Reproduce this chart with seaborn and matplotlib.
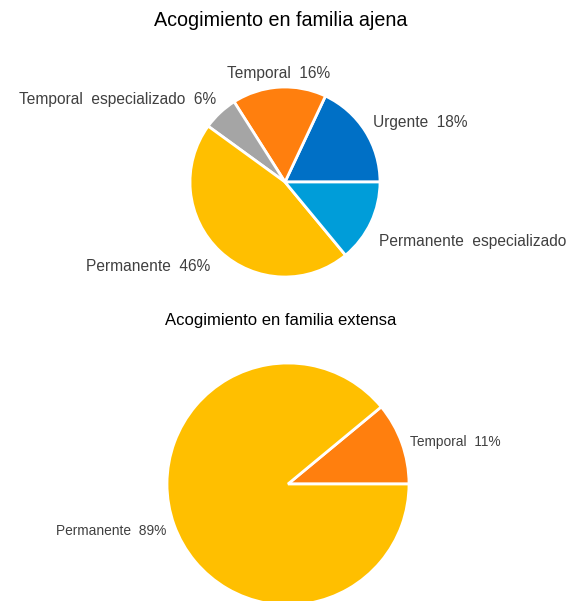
import numpy as np
import matplotlib
matplotlib.use("Agg")
import matplotlib.pyplot as plt
import seaborn as sns

# data
ajena_labels = ["Urgente", "Temporal", "Temporal  especializado", "Permanente", "Permanente  especializado"]
ajena_values = [18, 16, 6, 46, 14]
ajena_colors = ["#0070C6", "#FF7F0E", "#A5A5A5", "#FFBF00", "#009DD9"]
# the last percentage runs off the page in the reference
ajena_show_pct = [True, True, True, True, False]

extensa_labels = ["Temporal", "Permanente"]
extensa_values = [11, 89]
extensa_colors = ["#FF7F0E", "#FFBF00"]
extensa_show_pct = [True, True]

# small label nudges (pixels) to follow the "best fit" placement of the original
ajena_nudge = [(-2, 2), (0, 2), (4, 5), (-2, -7), (-2, -14)]
extensa_nudge = [(0, -2), (0, -3)]

sns.set_theme(style="white")
plt.rcParams['font.family'] = ['Liberation Sans', 'DejaVu Sans']

W, H = 573, 601
fig = plt.figure(figsize=(W / 100, H / 100), dpi=100)
fig.patch.set_facecolor("white")


def pie_axes(cx, cy, r, lim=1.5):
	# place a square axes so that the unit circle has radius r pixels at (cx, cy)
	side = 2 * lim * r
	ax = fig.add_axes([(cx - side / 2) / W, (H - cy - side / 2) / H, side / W, side / H])
	return ax


def draw_pie(ax, labels, values, colors, show_pct, nudge, dist, fontsize):
	wedges, _ = ax.pie(values, colors=colors, startangle=0, counterclock=True,
		wedgeprops=dict(edgecolor="white", linewidth=2))
	total = float(sum(values))
	for w, lab, v, sp, nd in zip(wedges, labels, values, show_pct, nudge):
		ang = np.deg2rad((w.theta1 + w.theta2) / 2)
		x, y = dist * np.cos(ang), dist * np.sin(ang)
		if abs(np.cos(ang)) < 0.2:
			ha = "center"
		elif x > 0:
			ha = "left"
		else:
			ha = "right"
		txt = f"{lab}  {int(round(100 * v / total))}%" if sp else lab
		ax.annotate(txt, (x, y), xytext=nd, textcoords="offset pixels",
			ha=ha, va="center", fontsize=fontsize, color="#404040",
			annotation_clip=False)
	ax.set_xlim(-1.5, 1.5)
	ax.set_ylim(-1.5, 1.5)
	ax.set_aspect("equal")
	ax.axis("off")


ax1 = pie_axes(285, 182, 95)
draw_pie(ax1, ajena_labels, ajena_values, ajena_colors, ajena_show_pct, ajena_nudge, 1.12, 11.2)

ax2 = pie_axes(288, 484, 121)
draw_pie(ax2, extensa_labels, extensa_values, extensa_colors, extensa_show_pct, extensa_nudge, 1.07, 9.9)

fig.text(281 / W, 1 - 20 / H, "Acogimiento en familia ajena", ha="center", va="center",
	fontsize=14.2, color="black")
fig.text(281 / W, 1 - 321 / H, "Acogimiento en familia extensa", ha="center", va="center",
	fontsize=12, color="black")

fig.savefig("out.png", dpi=100, facecolor="white")
